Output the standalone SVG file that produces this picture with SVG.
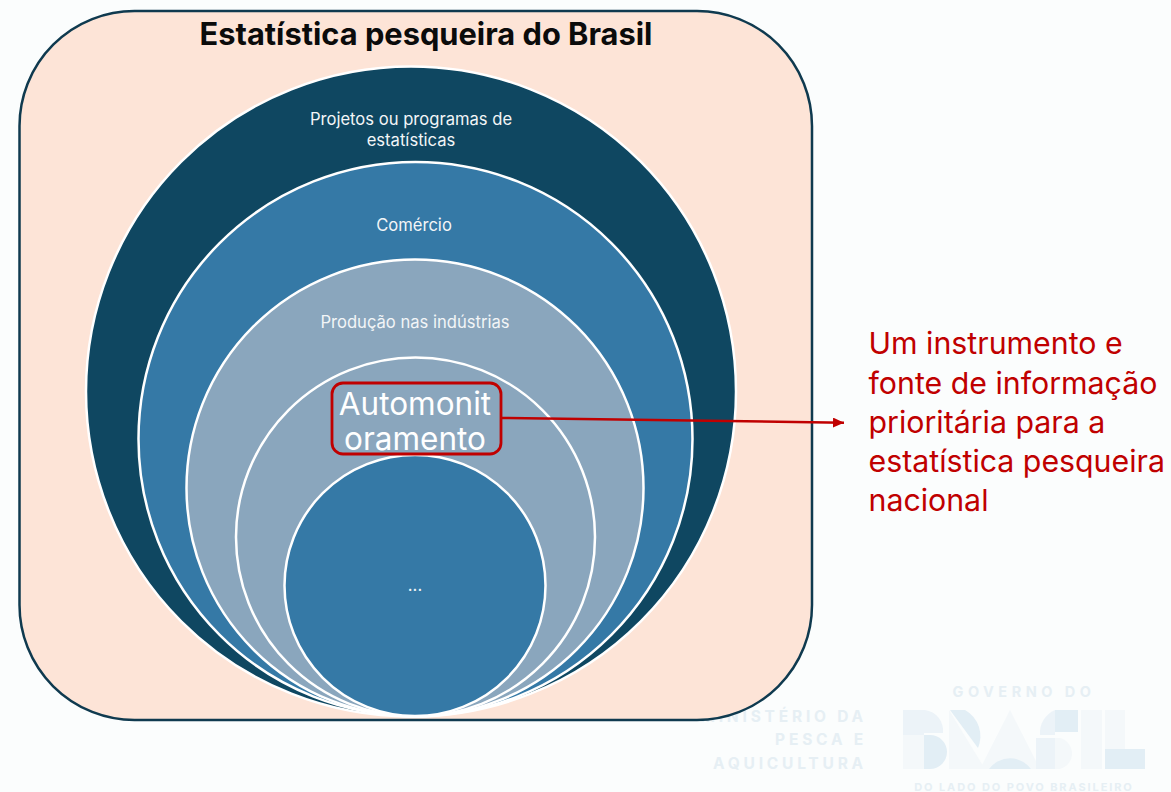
<svg xmlns="http://www.w3.org/2000/svg" width="1171" height="792" viewBox="0 0 1171 792">
<defs>
<marker id="arrow" markerUnits="userSpaceOnUse" markerWidth="12" markerHeight="11" refX="11" refY="5" orient="auto"><path d="M0 0L11 5L0 10Z" fill="#c00000"/></marker>
</defs>
<style>
.ring{stroke:#fff;stroke-width:2.500}
.lbl{font-family:"Inter","Noto Sans","Liberation Sans",sans-serif;font-size:16.6px;fill:#f2f5f7;text-anchor:middle}
.big{font-family:"Inter","Noto Sans","Liberation Sans",sans-serif;font-size:31.500px;fill:#fff;text-anchor:middle}
.red{font-family:"Inter","Noto Sans","Liberation Sans",sans-serif;font-size:30.300px;fill:#c00000}
.wm{font-family:"Inter","Liberation Sans",sans-serif;font-weight:700;fill:#e6eff4;letter-spacing:3.800px}
.a{fill:#ecf3f8}.b{fill:#e2eef5}.c{fill:#f4f8fa}
</style>
<rect width="1171" height="792" fill="#fbfdfd"/>
<g id="watermark">
<text class="wm" x="867" y="722" font-size="15.500" text-anchor="end">MINISTÉRIO DA</text>
<text class="wm" x="867" y="745" font-size="15.500" text-anchor="end">PESCA E</text>
<text class="wm" x="867" y="769" font-size="15.500" text-anchor="end">AQUICULTURA</text>
<text class="wm" x="1024" y="697" font-size="14.500" text-anchor="middle" style="letter-spacing:4.500px">GOVERNO DO</text>
<text class="wm" x="1024" y="791" font-size="11" text-anchor="middle" style="letter-spacing:1.900px">DO LADO DO POVO BRASILEIRO</text>
<path class="a" d="M903 710H925A21 21 0 0 1 943 733L924 733V735H903Z"/>
<rect class="c" x="903" y="735" width="21" height="34"/>
<path class="b" d="M924 735H930A17 17 0 0 1 930 769H924Z"/>
<path class="c" d="M949 710L985 769H949Z"/>
<path class="b" d="M950 710H965A30 30 0 0 1 978 748Z"/>
<path class="c" d="M1010 710L1040 769H980Z"/>
<path class="b" d="M989 769A26 26 0 0 1 1031 769Z"/>
<path class="a" d="M1055 710V735H1040A25 25 0 0 1 1055 710Z"/>
<rect class="b" x="1055" y="710" width="23" height="22"/>
<rect class="a" x="1036" y="738" width="19" height="31"/>
<path class="c" d="M1055 738H1060A16 16 0 0 1 1060 769H1055Z"/>
<rect class="c" x="1081" y="710" width="21" height="59"/>
<rect class="c" x="1105" y="710" width="20" height="39"/>
<rect class="b" x="1105" y="749" width="40" height="20"/>
</g>
<rect id="frame" x="19.500" y="11" width="792.500" height="709" rx="115" fill="#fde4d7" stroke="#0f3a4f" stroke-width="2.500"/>
<text id="title" x="426" y="45" font-family="Inter,'Noto Sans','Liberation Sans',sans-serif" font-weight="700" font-size="30.800" fill="#0b0b0b" text-anchor="middle">Estatística pesqueira do Brasil</text>
<g id="node-projetos"><circle class="ring" cx="411" cy="391.500" r="325" fill="#0f4761"/><text class="lbl" x="411" y="125">Projetos ou programas de</text><text class="lbl" x="411" y="146">estatísticas</text></g>
<g id="node-comercio"><circle class="ring" cx="415.500" cy="439" r="277" fill="#3579a6"/><text class="lbl" x="414" y="231">Comércio</text></g>
<g id="node-producao"><circle class="ring" cx="415" cy="488" r="228.500" fill="#8aa6bd"/><text class="lbl" x="415" y="328">Produção nas indústrias</text></g>
<g id="node-auto"><circle class="ring" cx="415.500" cy="537" r="179.500" fill="#8aa6bd"/></g>
<g id="node-inner"><circle class="ring" cx="415" cy="585.500" r="130.500" fill="#3579a6"/><text class="lbl" x="415" y="591">...</text></g>
<g id="node-highlight"><rect x="332" y="383" width="169" height="71" rx="11" fill="none" stroke="#c00000" stroke-width="2.800"/><text class="big" x="415" y="414.500">Automonit</text><text class="big" x="415" y="450">oramento</text></g>
<g id="connectors"><line x1="501" y1="418" x2="844" y2="422.700" stroke="#c00000" stroke-width="2.500" marker-end="url(#arrow)"/></g>
<g id="note"><text class="red" x="868.500" y="353.500">Um instrumento e</text><text class="red" x="868.500" y="393.500">fonte de informação</text><text class="red" x="868.500" y="432.500">prioritária para a</text><text class="red" x="868.500" y="471.500">estatística pesqueira</text><text class="red" x="868.500" y="510.500">nacional</text></g>
</svg>
